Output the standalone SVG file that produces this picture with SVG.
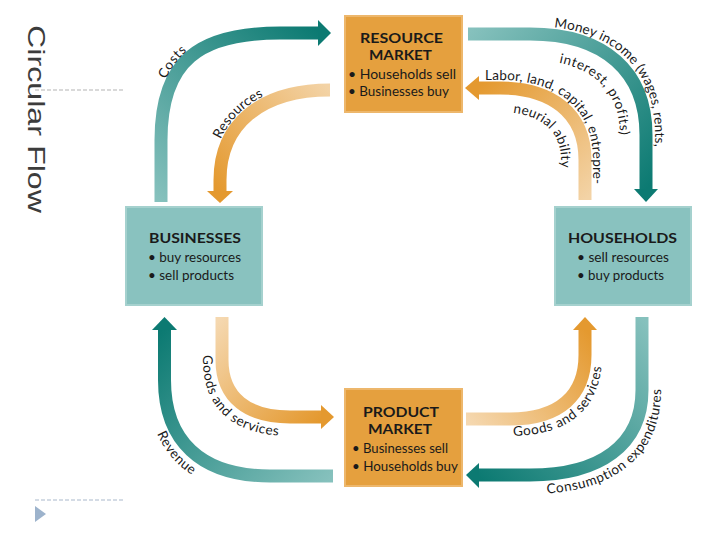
<svg xmlns="http://www.w3.org/2000/svg" width="720" height="540" viewBox="0 0 720 540">
<defs>
<style>
.box-o{fill:#e5a03e;stroke:#edb76c;stroke-width:2}
.box-t{fill:#89c2bf;stroke:#a5d1ce;stroke-width:2}
.ttl{font-family:Lato,"Open Sans","Liberation Sans",sans-serif;font-weight:700;font-size:14px;fill:#1a1a1a}
.bul{font-family:Lato,"Open Sans","Liberation Sans",sans-serif;font-size:13px;fill:#1a1a1a}
.lbl{font-family:Lato,"Open Sans","Liberation Sans",sans-serif;font-size:13.5px;letter-spacing:0.6px;fill:#1a1a1a}
.tight{letter-spacing:0.2px}
.band{fill:none;stroke-width:13}
.headT{fill:#0c7a72}
.headO{fill:#e4992f}
</style>
<linearGradient id="g1" gradientUnits="userSpaceOnUse" x1="161" y1="202" x2="320" y2="33"><stop offset="0" stop-color="#86c1bd"/><stop offset="1" stop-color="#0c7a72"/></linearGradient>
<linearGradient id="g2" gradientUnits="userSpaceOnUse" x1="330" y1="90" x2="220" y2="192"><stop offset="0" stop-color="#f3d3a6"/><stop offset="1" stop-color="#e4992f"/></linearGradient>
<linearGradient id="g3" gradientUnits="userSpaceOnUse" x1="468" y1="34" x2="646" y2="190"><stop offset="0" stop-color="#86c1bd"/><stop offset="1" stop-color="#0c7a72"/></linearGradient>
<linearGradient id="g4" gradientUnits="userSpaceOnUse" x1="585" y1="200" x2="477" y2="88"><stop offset="0" stop-color="#f3d3a6"/><stop offset="1" stop-color="#e4992f"/></linearGradient>
<linearGradient id="g5" gradientUnits="userSpaceOnUse" x1="333" y1="476" x2="164" y2="328"><stop offset="0" stop-color="#86c1bd"/><stop offset="1" stop-color="#0c7a72"/></linearGradient>
<linearGradient id="g6" gradientUnits="userSpaceOnUse" x1="222" y1="317" x2="323" y2="417"><stop offset="0" stop-color="#f5d8b0"/><stop offset="1" stop-color="#e4992f"/></linearGradient>
<linearGradient id="g7" gradientUnits="userSpaceOnUse" x1="466" y1="419" x2="585" y2="328"><stop offset="0" stop-color="#f5d8b0"/><stop offset="1" stop-color="#e4992f"/></linearGradient>
<linearGradient id="g8" gradientUnits="userSpaceOnUse" x1="642" y1="317" x2="477" y2="475"><stop offset="0" stop-color="#86c1bd"/><stop offset="1" stop-color="#0c7a72"/></linearGradient>
<path id="lp-costs" d="M155,202 L155,140 C155,56 196,27 280,27 L330,27"/>
<path id="lp-res" d="M212,200 L212,180 C212,122 257,82 330,82"/>
<path id="lp-money" d="M468,26 L530,26 C612,26 655,67 655,135 L655,200"/>
<path id="lp-int" d="M468,60 L530,60 C588,60 620,88 620,135 L620,200"/>
<path id="lp-labor" d="M460,80 L500,80 C555,80 593,106 593,160 L593,200"/>
<path id="lp-neur" d="M460,112 L500,112 C536,112 561,128 561,160 L561,200"/>
<path id="lp-rev" d="M147,320 L147,380 C147,451 188,494 270,494 L340,494"/>
<path id="lp-gbl" d="M203,317 L203,360 C203,411 236,436 290,436 L345,436"/>
<path id="lp-gbr" d="M460,436 L510,436 C572,436 602,406 602,355 L602,320"/>
<path id="lp-cons" d="M470,494 L530,494 C612,494 661,458 661,390 L661,317"/>
</defs>
<rect width="720" height="540" fill="#ffffff"/>

<g id="sidebar">
<text transform="translate(28,25) rotate(90)" font-family="'Liberation Sans',Arial,sans-serif" font-size="24" fill="#3c3c3c" textLength="188" lengthAdjust="spacingAndGlyphs">Circular Flow</text>
<line x1="35" y1="90" x2="125" y2="90" stroke="#b3b3b3" stroke-width="1" stroke-dasharray="4,2"/>
<line x1="35" y1="500" x2="125" y2="500" stroke="#a9b8cb" stroke-width="1" stroke-dasharray="4,2"/>
<polygon points="35,506 46,514 35,522" fill="#9db3cc"/>
</g>

<g id="connectors">
<g id="arrow-costs">
<path class="band" stroke="url(#g1)" d="M161,202 L161,140 C161,60 200,33 280,33 L320,33"/>
<polygon class="headT" points="318,20 331,33 318,46"/>
</g>
<g id="arrow-resources">
<path class="band" stroke="url(#g2)" stroke-width="12" d="M330,90 C260,90 220,125 220,180 L220,192"/>
<polygon class="headO" points="207,191 233,191 220,203"/>
</g>
<g id="arrow-money">
<path class="band" stroke="url(#g3)" d="M468,34 L530,34 C605,34 646,72 646,135 L646,190"/>
<polygon class="headT" points="634,189 658,189 646,202"/>
</g>
<g id="arrow-labor">
<path class="band" stroke="url(#g4)" stroke-width="12" d="M585,200 L585,160 C585,112 550,88 500,88 L478,88"/>
<polygon class="headO" points="479,76 479,100 465,88"/>
</g>
<g id="arrow-revenue">
<path class="band" stroke="url(#g5)" d="M333,476 L270,476 C200,476 164.5,440 164.5,380 L164.5,329"/>
<polygon class="headT" points="152,330 177,330 164.5,317"/>
</g>
<g id="arrow-goods-bl">
<path class="band" stroke="url(#g6)" stroke-width="12" d="M222,317 L222,360 C222,398 248,417 290,417 L322,417"/>
<polygon class="headO" points="321,405 321,429 334,417"/>
</g>
<g id="arrow-goods-br">
<path class="band" stroke="url(#g7)" stroke-width="12" d="M466,419 L510,419 C560,419 585,395 585,355 L585,329"/>
<polygon class="headO" points="573,330 597,330 585,317"/>
</g>
<g id="arrow-consumption">
<path class="band" stroke="url(#g8)" d="M642,317 L642,390 C642,445 600,475 530,475 L478,475"/>
<polygon class="headT" points="479,463 479,488 466,475"/>
</g>
<g id="labels">
<text class="lbl"><textPath href="#lp-costs" startOffset="124">Costs</textPath></text>
<text class="lbl tight"><textPath href="#lp-res" startOffset="62">Resources</textPath></text>
<text class="lbl tight"><textPath href="#lp-money" startOffset="86">Money income (wages, rents,</textPath></text>
<text class="lbl"><textPath href="#lp-int" startOffset="91">interest, profits)</textPath></text>
<text class="lbl tight"><textPath href="#lp-labor" startOffset="25">Labor, land, capital, entrepre-</textPath></text>
<text class="lbl tight"><textPath href="#lp-neur" startOffset="53">neurial ability</textPath></text>
<text class="lbl"><textPath href="#lp-rev" startOffset="115">Revenue</textPath></text>
<text class="lbl"><textPath href="#lp-gbl" startOffset="38">Goods and services</textPath></text>
<text class="lbl"><textPath href="#lp-gbr" startOffset="53">Goods and services</textPath></text>
<text class="lbl"><textPath href="#lp-cons" startOffset="77">Consumption expenditures</textPath></text>
</g>
</g>

<g id="resource-market">
<rect class="box-o" x="345" y="16" width="117" height="96"/>
<text class="ttl" x="401.5" y="43" text-anchor="middle" textLength="83" lengthAdjust="spacingAndGlyphs">RESOURCE</text>
<text class="ttl" x="400.5" y="60" text-anchor="middle" textLength="63" lengthAdjust="spacingAndGlyphs">MARKET</text>
<text class="bul" x="348" y="79" textLength="108" lengthAdjust="spacingAndGlyphs">• Households sell</text>
<text class="bul" x="348" y="96" textLength="101" lengthAdjust="spacingAndGlyphs">• Businesses buy</text>
</g>

<g id="businesses">
<rect class="box-t" x="126" y="207" width="136" height="98"/>
<text class="ttl" x="149" y="243" textLength="92" lengthAdjust="spacingAndGlyphs">BUSINESSES</text>
<text class="bul" x="148" y="262" textLength="93" lengthAdjust="spacingAndGlyphs">• buy resources</text>
<text class="bul" x="148" y="280" textLength="86" lengthAdjust="spacingAndGlyphs">• sell products</text>
</g>

<g id="households">
<rect class="box-t" x="555" y="207" width="136" height="98"/>
<text class="ttl" x="568" y="243" textLength="109" lengthAdjust="spacingAndGlyphs">HOUSEHOLDS</text>
<text class="bul" x="577" y="262" textLength="92" lengthAdjust="spacingAndGlyphs">• sell resources</text>
<text class="bul" x="577" y="280" textLength="87" lengthAdjust="spacingAndGlyphs">• buy products</text>
</g>

<g id="product-market">
<rect class="box-o" x="345" y="389" width="117" height="97"/>
<text class="ttl" x="401" y="417" text-anchor="middle" textLength="76" lengthAdjust="spacingAndGlyphs">PRODUCT</text>
<text class="ttl" x="400" y="434" text-anchor="middle" textLength="64" lengthAdjust="spacingAndGlyphs">MARKET</text>
<text class="bul" x="352" y="453" textLength="96" lengthAdjust="spacingAndGlyphs">• Businesses sell</text>
<text class="bul" x="352" y="471" textLength="106" lengthAdjust="spacingAndGlyphs">• Households buy</text>
</g>
</svg>
